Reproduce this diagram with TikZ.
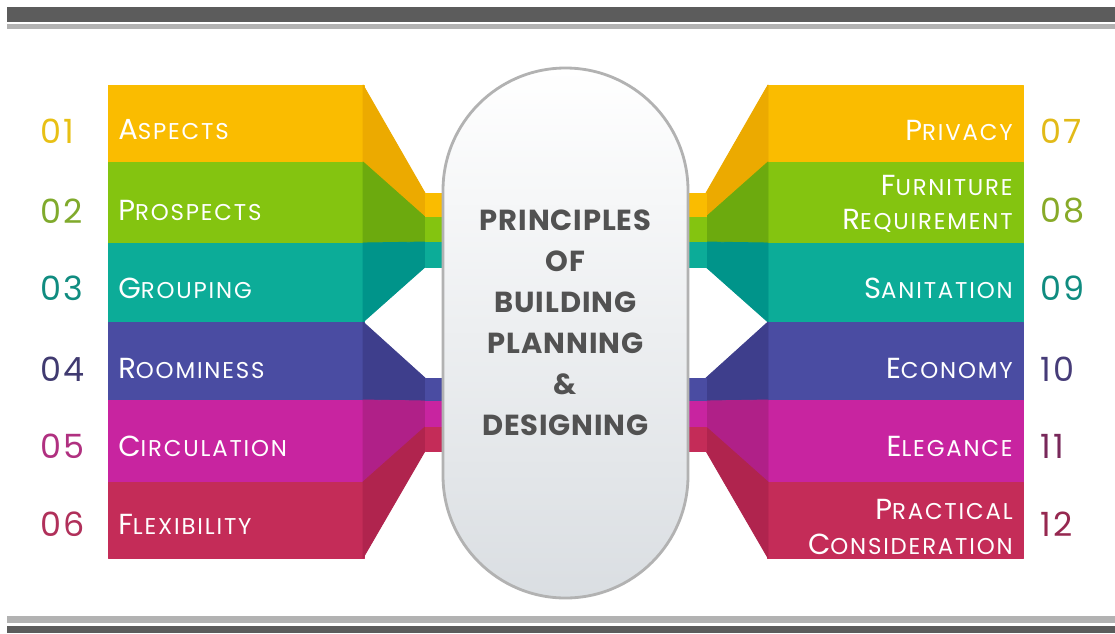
\documentclass[tikz,border=0pt]{standalone}
\usepackage{fontspec}
\setmainfont{Poppins}
\newfontfamily\ttlfont{Poppins}[LetterSpace=3]
\newfontfamily\labfont{Poppins}[LetterSpace=8]
\newfontfamily\numfont{Poppins}[LetterSpace=6]
\definecolor{cA}{RGB}{250,188,0}   \definecolor{fA}{RGB}{236,170,0}
\definecolor{cB}{RGB}{132,196,16}  \definecolor{fB}{RGB}{108,170,14}
\definecolor{cC}{RGB}{12,172,152}  \definecolor{fC}{RGB}{0,148,138}
\definecolor{cD}{RGB}{74,76,162}   \definecolor{fD}{RGB}{62,62,140}
\definecolor{cE}{RGB}{200,36,160}  \definecolor{fE}{RGB}{176,32,136}
\definecolor{cF}{RGB}{196,44,88}   \definecolor{fF}{RGB}{176,36,78}
\definecolor{barD}{RGB}{92,92,92}  \definecolor{barL}{RGB}{178,178,178}
\definecolor{pillB}{RGB}{218,222,226}
\newcommand{\sctxt}[2]{{\fontsize{16.5}{19.5}\selectfont #1}{\fontsize{13}{19.5}\selectfont #2}}
\begin{document}
\begin{tikzpicture}[x=0.02cm, y=-0.02cm, line join=round,
	num/.style={font=\numfont\fontsize{19}{19}\selectfont, inner sep=0pt, anchor=west},
	lab/.style={text=white, font=\labfont\fontsize{13}{19.5}\selectfont, inner sep=0pt},
	fnl/.style={fill=#1, draw=#1, line width=0.5pt},
	pill/.style={draw=gray!60, line width=1.6pt, rounded corners=69.7pt, top color=white, bottom color=pillB}]
	\fill[white] (0,0) rectangle (1115,633);
	\useasboundingbox (0,0) rectangle (1115,633);
	% frame bars
	\fill[barD] (7,7) rectangle (1115,22);
	\fill[barL] (7,24) rectangle (1115,29);
	\fill[barL] (7,616) rectangle (1115,623);
	\fill[barD] (7,626) rectangle (1115,633);
	% left blocks, then mirrored on the right
	\foreach \sx/\sh in {1/0,-1/1131}{
		\begin{scope}[xshift=\sh*0.02cm, x=\sx*0.02cm]
			\filldraw[fnl=cA] (108,85) rectangle (364,162);
			\filldraw[fnl=cB] (108,162) rectangle (364,243);
			\filldraw[fnl=cC] (108,243) rectangle (364,322);
			\filldraw[fnl=cD] (108,322) rectangle (364,400);
			\filldraw[fnl=cE] (108,400) rectangle (364,482);
			\filldraw[fnl=cF] (108,482) rectangle (364,558);
			\filldraw[fnl=fA] (363,85)--(425,193)--(425,217)--(363,162)--cycle;
			\filldraw[fnl=fB] (363,162)--(425,217)--(425,242)--(363,243)--cycle;
			\filldraw[fnl=fC] (363,243)--(425,242)--(425,267)--(363,322)--cycle;
			\filldraw[fnl=fD] (363,322)--(425,378)--(425,401)--(363,400)--cycle;
			\filldraw[fnl=fE] (363,400)--(425,401)--(425,427)--(363,482)--cycle;
			\filldraw[fnl=fF] (363,482)--(425,427)--(425,451)--(363,558)--cycle;
			\filldraw[fnl=cA] (425,193) rectangle (452,217);
			\filldraw[fnl=cB] (425,217) rectangle (452,242);
			\filldraw[fnl=cC] (425,242) rectangle (452,267);
			\filldraw[fnl=cD] (425,378) rectangle (452,401);
			\filldraw[fnl=cE] (425,401) rectangle (452,427);
			\filldraw[fnl=cF] (425,427) rectangle (452,451);
		\end{scope}
	}
	% centre pill
	\draw[pill] (443,68) rectangle (688,598);
	\node (ttl) at (565.5,323) [font=\ttlfont\bfseries\fontsize{16.5}{23.3}\selectfont, text=black!68, align=center]
		{PRINCIPLES\\OF\\BUILDING\\PLANNING\\\&\\DESIGNING};
	% numbers
	\path
	(40,131) node[num, text={rgb,255:red,232;green,192;blue,20}] (n1) {01}
	(40,211) node[num, text={rgb,255:red,128;green,170;blue,44}] (n2) {02}
	(40,288) node[num, text={rgb,255:red,16;green,140;blue,128}] (n3) {03}
	(40,369) node[num, text={rgb,255:red,64;green,58;blue,112}] (n4) {04}
	(40,446) node[num, text={rgb,255:red,176;green,48;blue,128}] (n5) {05}
	(40,524) node[num, text={rgb,255:red,176;green,48;blue,90}] (n6) {06}
	(1040,131) node[num, text={rgb,255:red,226;green,186;blue,24}] (n7) {07}
	(1040,211) node[num, text={rgb,255:red,136;green,170;blue,40}] (n8) {08}
	(1040,288) node[num, text={rgb,255:red,16;green,140;blue,128}] (n9) {09}
	(1040,369) node[num, text={rgb,255:red,70;green,60;blue,120}] (n10) {10}
	(1040,446) node[num, text={rgb,255:red,120;green,40;blue,90}] (n11) {11}
	(1040,524) node[num, text={rgb,255:red,150;green,40;blue,80}] (n12) {12}
	;
	% labels
	\path
	(118,130) node[lab, anchor=west] (l1) {\sctxt{A}{SPECTS}}
	(118,210) node[lab, anchor=west] (l2) {\sctxt{P}{ROSPECTS}}
	(118,288) node[lab, anchor=west] (l3) {\sctxt{G}{ROUPING}}
	(118,368) node[lab, anchor=west] (l4) {\sctxt{R}{OOMINESS}}
	(118,446) node[lab, anchor=west] (l5) {\sctxt{C}{IRCULATION}}
	(118,524) node[lab, anchor=west] (l6) {\sctxt{F}{LEXIBILITY}}
	(1013,130) node[lab, anchor=east] (l7) {\sctxt{P}{RIVACY}}
	(1013,204) node[lab, anchor=east, align=right] (l8) {\sctxt{F}{URNITURE}\\\sctxt{R}{EQUIREMENT}}
	(1013,288) node[lab, anchor=east] (l9) {\sctxt{S}{ANITATION}}
	(1013,368) node[lab, anchor=east] (l10) {\sctxt{E}{CONOMY}}
	(1013,446) node[lab, anchor=east] (l11) {\sctxt{E}{LEGANCE}}
	(1013,527) node[lab, anchor=east, align=right] (l12) {\sctxt{P}{RACTICAL}\\\sctxt{C}{ONSIDERATION}}
	;
\end{tikzpicture}
\end{document}
